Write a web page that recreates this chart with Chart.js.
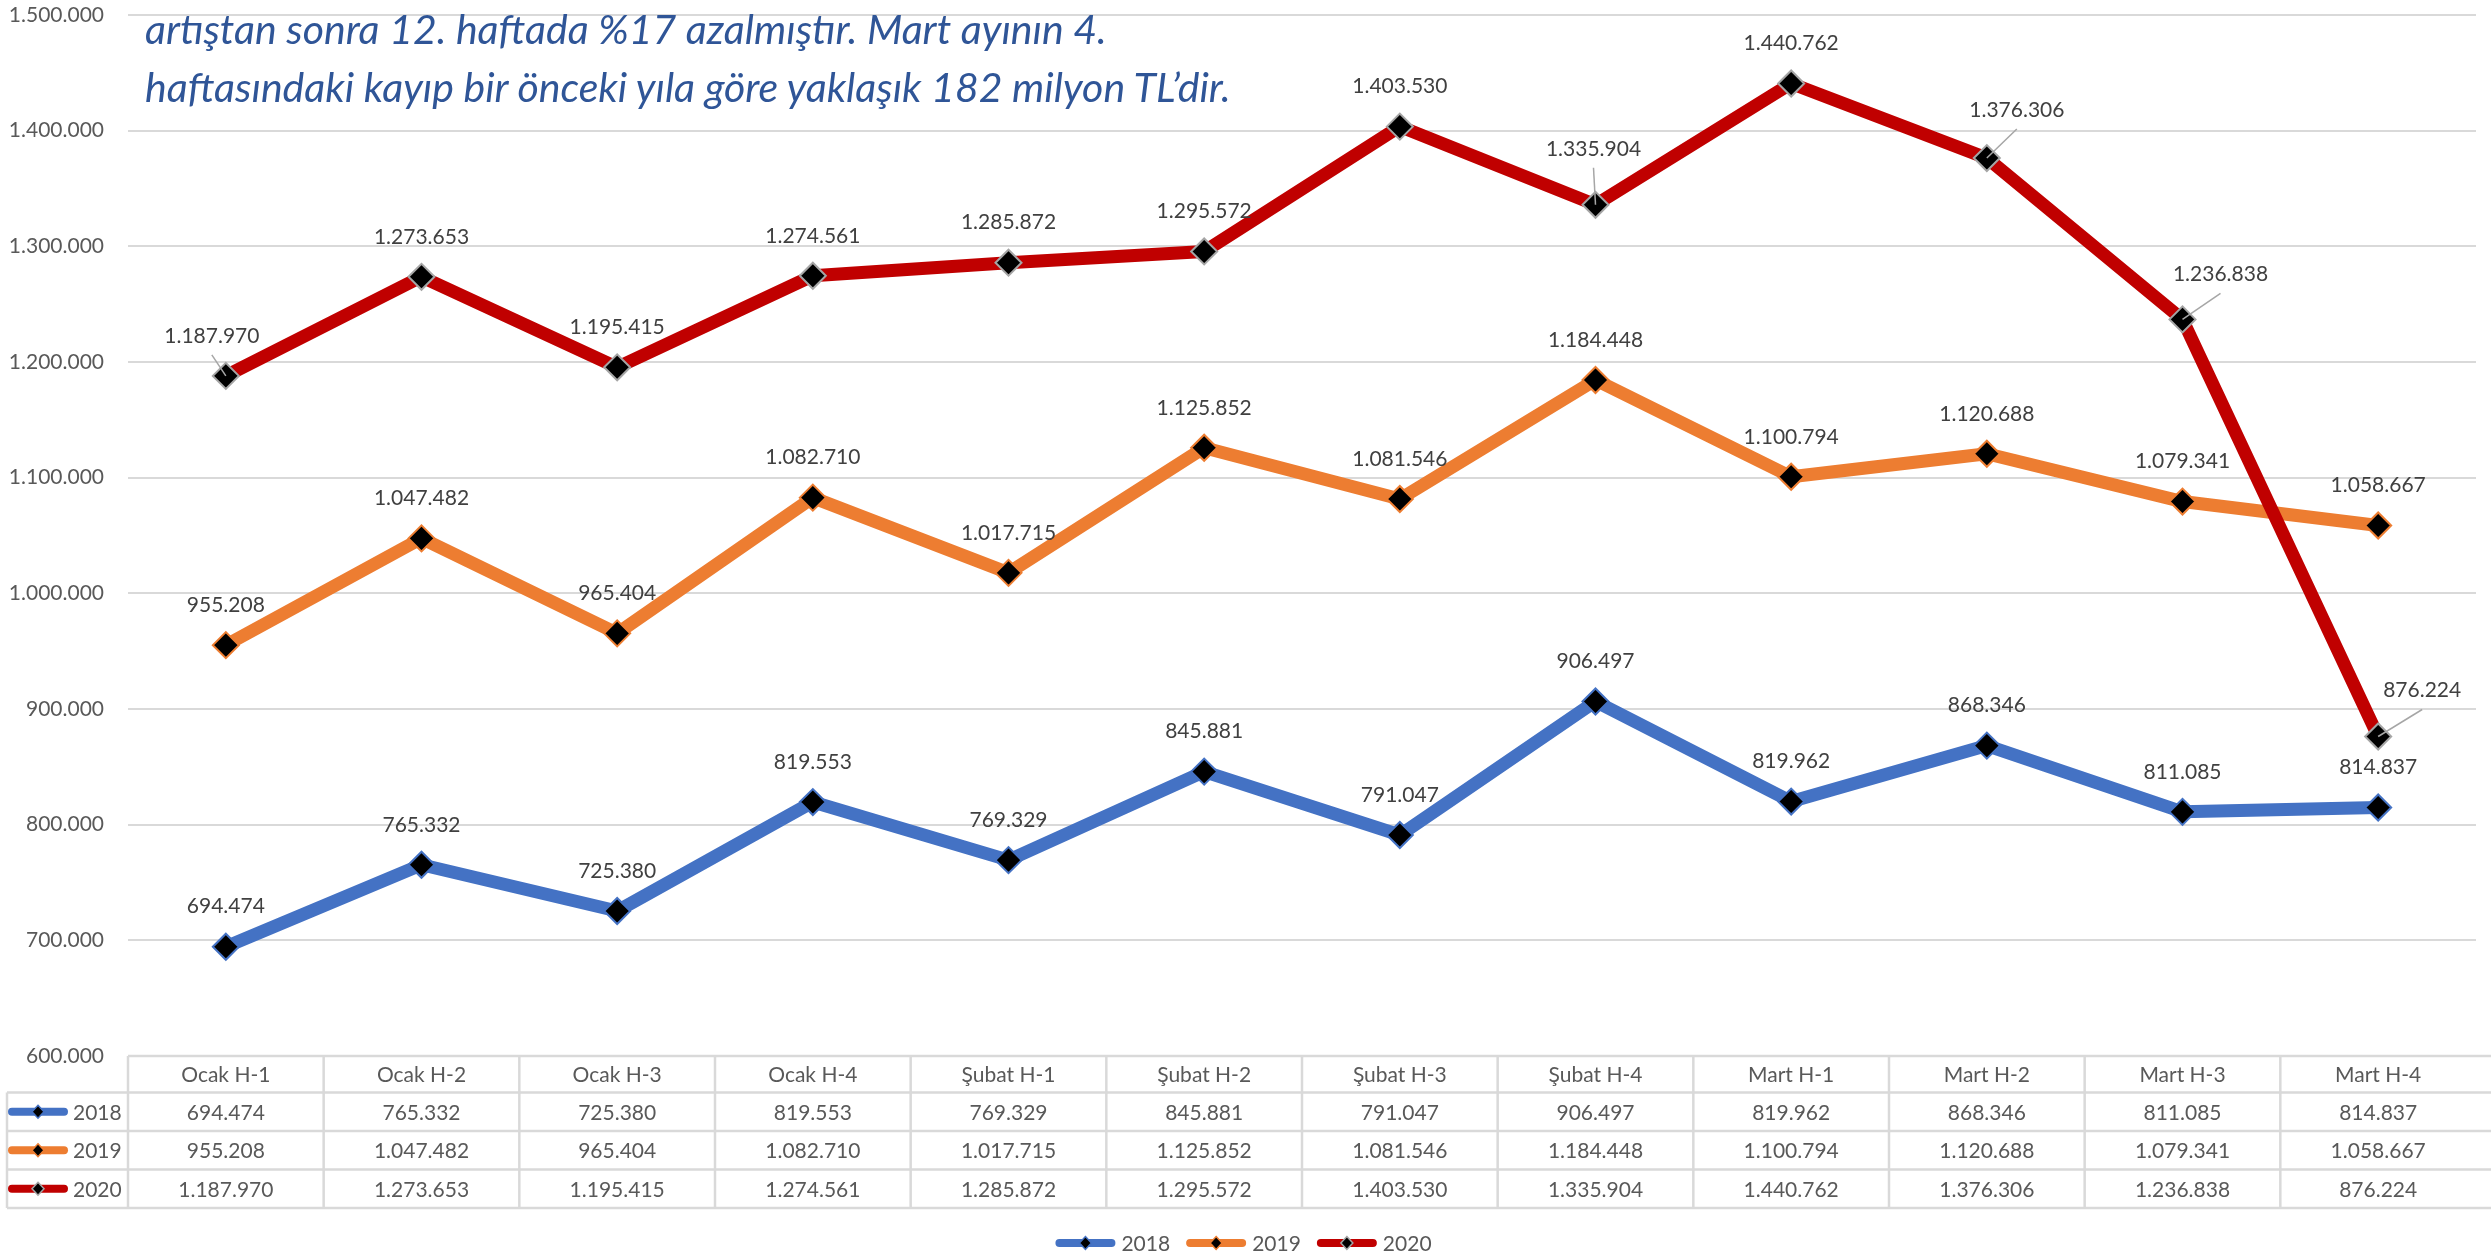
<!DOCTYPE html>
<html>
<head>
<meta charset="utf-8">
<title>Haftalık karşılaştırma 2018-2020</title>
<script src="https://cdn.jsdelivr.net/npm/chart.js@4/dist/chart.umd.min.js"></script>
<style>
  body { margin: 0; background: #fff; }
  #wrap { position: relative; width: 2491px; height: 1253px; }
  #note {
    position: absolute; left: 145px; top: 0px;
    font-family: Lato, "Open Sans", sans-serif; font-style: italic;
    font-size: 41px; line-height: 58px; color: #2F5597;
    white-space: nowrap;
  }
</style>
</head>
<body>
<div id="wrap">
  <canvas id="myChart" width="2491" height="1253"></canvas>
  <div id="note">artıştan sonra 12. haftada %17 azalmıştır. Mart ayının 4.<br>haftasındaki kayıp bir önceki yıla göre yaklaşık 182 milyon TL’dir.</div>
</div>
<script>
// Data
const weeks = ['Ocak H-1', 'Ocak H-2', 'Ocak H-3', 'Ocak H-4', 'Şubat H-1', 'Şubat H-2',
               'Şubat H-3', 'Şubat H-4', 'Mart H-1', 'Mart H-2', 'Mart H-3', 'Mart H-4'];
const seriesNames = ['2018', '2019', '2020'];
const values2018 = [694474, 765332, 725380, 819553, 769329, 845881, 791047, 906497, 819962, 868346, 811085, 814837];
const values2019 = [955208, 1047482, 965404, 1082710, 1017715, 1125852, 1081546, 1184448, 1100794, 1120688, 1079341, 1058667];
const values2020 = [1187970, 1273653, 1195415, 1274561, 1285872, 1295572, 1403530, 1335904, 1440762, 1376306, 1236838, 876224];
const yTicks = [600000, 700000, 800000, 900000, 1000000, 1100000, 1200000, 1300000, 1400000, 1500000];

// Styles
const lineColors = ['#4472C4', '#ED7D31', '#C00000'];
const markerBorders = ['#4472C4', '#ED7D31', '#A5A5A5'];
const textColor = '#595959';
const labelColor = '#404040';
const gridColor = '#D9D9D9';
const font = 'Lato, "Open Sans", sans-serif';

// label offsets for the 2020 series (the ones with leader lines)
const labelShift2020 = [[-14, -40], null, null, null, null, null, null, [-2, -56], null, [30, -48], [38, -45], [44, -46]];

function fmt(n) {
    return n.toString().replace(/\B(?=(\d{3})+(?!\d))/g, '.');
}

const allValues = [values2018, values2019, values2020];

// draw data labels + leader lines
const labelPlugin = {
    id: 'labels',
    afterDatasetsDraw(chart) {
        const ctx = chart.ctx;
        ctx.save();
        ctx.font = '21px ' + font;
        ctx.textAlign = 'center';
        ctx.textBaseline = 'middle';
        chart.data.datasets.forEach((ds, d) => {
            const meta = chart.getDatasetMeta(d);
            meta.data.forEach((pt, i) => {
                let dx = 0, dy = -40;
                const shift = d === 2 ? labelShift2020[i] : null;
                if (shift) {
                    dx = shift[0];
                    dy = shift[1];
                    ctx.strokeStyle = '#A6A6A6';
                    ctx.lineWidth = 1.5;
                    ctx.beginPath();
                    ctx.moveTo(pt.x + dx, pt.y + dy + 19);
                    ctx.lineTo(pt.x, pt.y);
                    ctx.stroke();
                }
                ctx.fillStyle = labelColor;
                ctx.fillText(fmt(ds.data[i]), pt.x + dx, pt.y + dy);
            });
        });
        ctx.restore();
    }
};

function drawKey(ctx, x, y, d) {
    ctx.save();
    ctx.strokeStyle = lineColors[d];
    ctx.lineWidth = 8;
    ctx.lineCap = 'round';
    ctx.beginPath();
    ctx.moveTo(x + 4, y);
    ctx.lineTo(x + 56, y);
    ctx.stroke();
    ctx.fillStyle = '#000';
    ctx.strokeStyle = markerBorders[d];
    ctx.lineWidth = 1.5;
    ctx.beginPath();
    ctx.moveTo(x + 30, y - 6.5);
    ctx.lineTo(x + 36, y);
    ctx.lineTo(x + 30, y + 6.5);
    ctx.lineTo(x + 24, y);
    ctx.closePath();
    ctx.fill();
    ctx.stroke();
    ctx.restore();
}

// data table under the plot + legend
const tablePlugin = {
    id: 'table',
    afterDraw(chart) {
        const ctx = chart.ctx;
        const xs = chart.scales.x;
        const left = xs.left, right = chart.width;
        const colW = (xs.right - xs.left) / weeks.length;
        const rows = [chart.chartArea.bottom, 1092.5, 1131, 1169.5, 1208];
        ctx.save();
        ctx.strokeStyle = gridColor;
        ctx.lineWidth = 2.5;
        ctx.beginPath();
        ctx.moveTo(left, rows[0]); ctx.lineTo(right, rows[0]);
        for (let r = 1; r < rows.length; r++) {
            ctx.moveTo(7, rows[r]); ctx.lineTo(right, rows[r]);
        }
        for (let i = 0; i < weeks.length; i++) {
            const x = left + i * colW;
            ctx.moveTo(x, rows[0]); ctx.lineTo(x, rows[4]);
        }
        ctx.moveTo(7, rows[1]); ctx.lineTo(7, rows[4]);
        ctx.stroke();

        ctx.font = '21px ' + font;
        ctx.fillStyle = textColor;
        ctx.textAlign = 'center';
        ctx.textBaseline = 'middle';
        weeks.forEach((w, i) => {
            const cx = xs.getPixelForValue(i);
            ctx.fillText(w, cx, (rows[0] + rows[1]) / 2 + 1);
            allValues.forEach((vals, d) => {
                ctx.fillText(fmt(vals[i]), cx, (rows[d + 1] + rows[d + 2]) / 2 + 1);
            });
        });
        ctx.textAlign = 'left';
        seriesNames.forEach((name, d) => {
            const cy = (rows[d + 1] + rows[d + 2]) / 2;
            drawKey(ctx, 8, cy, d);
            ctx.fillStyle = textColor;
            ctx.fillText(name, 73, cy + 1);
        });

        // legend
        const widths = seriesNames.map(n => 62 + ctx.measureText(n).width);
        const gap = 20;
        const total = widths.reduce((a, b) => a + b, 0) + gap * (widths.length - 1);
        let x = chart.width / 2 - total / 2;
        const ly = 1243;
        seriesNames.forEach((name, d) => {
            drawKey(ctx, x - 4, ly, d);
            ctx.fillStyle = textColor;
            ctx.fillText(name, x + 62, ly + 1);
            x += widths[d] + gap;
        });
        ctx.restore();
    }
};

const ctx = document.getElementById('myChart').getContext('2d');

const myChart = new Chart(ctx, {
    type: 'line',
    data: {
        labels: weeks,
        datasets: seriesNames.map((name, d) => ({
            label: name,
            data: allValues[d],
            borderColor: lineColors[d],
            borderWidth: 13,
            borderJoinStyle: 'round',
            borderCapStyle: 'round',
            pointStyle: 'rectRot',
            pointRadius: 13,
            pointBackgroundColor: '#000',
            pointBorderColor: markerBorders[d],
            pointBorderWidth: 2,
            tension: 0,
            order: 3 - d
        }))
    },
    options: {
        responsive: false,
        animation: false,
        devicePixelRatio: 1,
        layout: { padding: { top: 13, bottom: 197, left: 0, right: 0 } },
        plugins: {
            legend: { display: false },
            tooltip: { enabled: false }
        },
        scales: {
            x: {
                type: 'category',
                offset: true,
                display: false
            },
            y: {
                min: 600000,
                max: 1500000,
                afterFit(scale) {
                    scale.width = 128;
                    scale.paddingTop = 0;
                    scale.paddingBottom = 0;
                },
                afterBuildTicks(scale) { scale.ticks = yTicks.map(v => ({ value: v })); },
                ticks: {
                    padding: 24,
                    color: textColor,
                    font: { family: font, size: 21 },
                    callback: (v) => fmt(v)
                },
                grid: { color: gridColor, lineWidth: 2, drawTicks: false },
                border: { display: false }
            }
        }
    },
    plugins: [labelPlugin, tablePlugin]
});
</script>
</body>
</html>
